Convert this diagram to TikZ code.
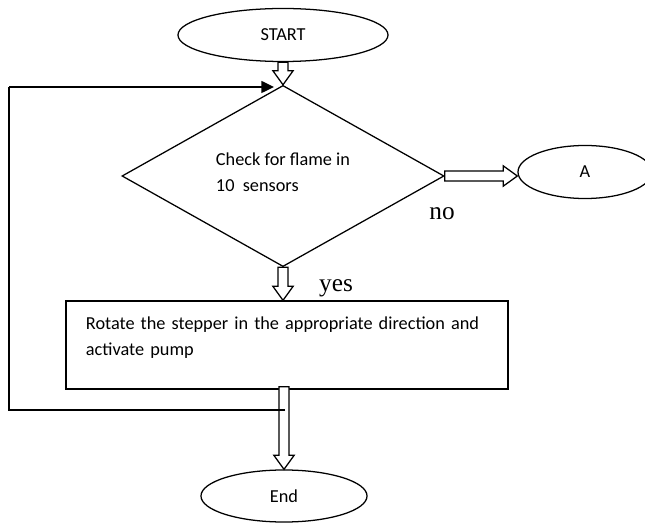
\documentclass[tikz,border=0pt]{standalone}
\usepackage{fontspec}
\setmainfont{Carlito}
\newfontfamily\answerfont{Liberation Serif}
\usetikzlibrary{shapes.geometric,calc,arrows.meta}

\newcommand{\hollowarrow}[2]{%
	\path (#2) coordinate (ha-tip) ($(#2)!10pt!(#1)$) coordinate (ha-neck);
	\draw[hollow] ($(#1)!3.6pt!90:(#2)$) -- ($(ha-neck)!3.6pt!90:(ha-tip)$)
		-- ($(ha-neck)!7.2pt!90:(ha-tip)$) -- (ha-tip)
		-- ($(ha-neck)!7.2pt!-90:(ha-tip)$) -- ($(ha-neck)!3.6pt!-90:(ha-tip)$)
		-- ($(#1)!3.6pt!-90:(#2)$) -- cycle;}

\begin{document}
\begin{tikzpicture}[
			x=0.025cm, y=-0.025cm,
			line width=0.9pt,
			every node/.style={font=\fontsize{13}{18.5}\selectfont},
			terminal/.style={ellipse,draw,inner sep=0pt},
			decision/.style={diamond,draw,inner sep=0pt,align=left,minimum width=8.05cm,minimum height=3.3cm},
			process/.style={rectangle,draw,inner xsep=0.5cm,text width=10.05cm,align=left,minimum height=2.2cm},
			hollow/.style={draw,fill=white,line width=0.9pt,line join=miter},
			answer/.style={font=\answerfont\fontsize{18}{20}\selectfont,inner sep=0pt},
			loop/.style={draw,line width=1.1pt,-{Triangle[length=9pt,width=8.5pt]}}
		]
		\useasboundingbox (0,0) rectangle (645,524);
		\node[terminal,minimum width=5.25cm,minimum height=1.325cm] (start) at (283,35) {START};
		\node[decision,text depth=6pt] (check) at (283,176) {Check for flame in\\10\ \ sensors};
		\node[terminal,minimum width=3.35cm,minimum height=1.325cm] (a) at (585,172) {A};
		\node[process,text depth=31pt] (task) at (287,345) {Rotate the stepper in the appropriate direction and\\activate pump};
		\node[terminal,minimum width=4.15cm,minimum height=1.3cm] (end) at (284,496) {End};
		\node[answer] (no) at (442,214) {no};
		\node[answer] (yes) at (336,288) {yes};
		\coordinate (fb-in) at (274,87);
		\coordinate (fb-out) at (285,410);
		\coordinate (fb-low) at (9,410);
		\coordinate (fb-up) at (9,87);
		\hollowarrow{start.south}{check.north}
		\hollowarrow{check.east}{check.east -| a.west}
		\hollowarrow{check.south}{check.south |- task.north}
		\hollowarrow{$(task.south -| end.north)+(0,-3)$}{end.north}
		\draw[line width=1.1pt] (fb-out) -- (fb-low) -- (fb-up);
		\draw[loop] (fb-up) -- (fb-in);
	\end{tikzpicture}
\end{document}
